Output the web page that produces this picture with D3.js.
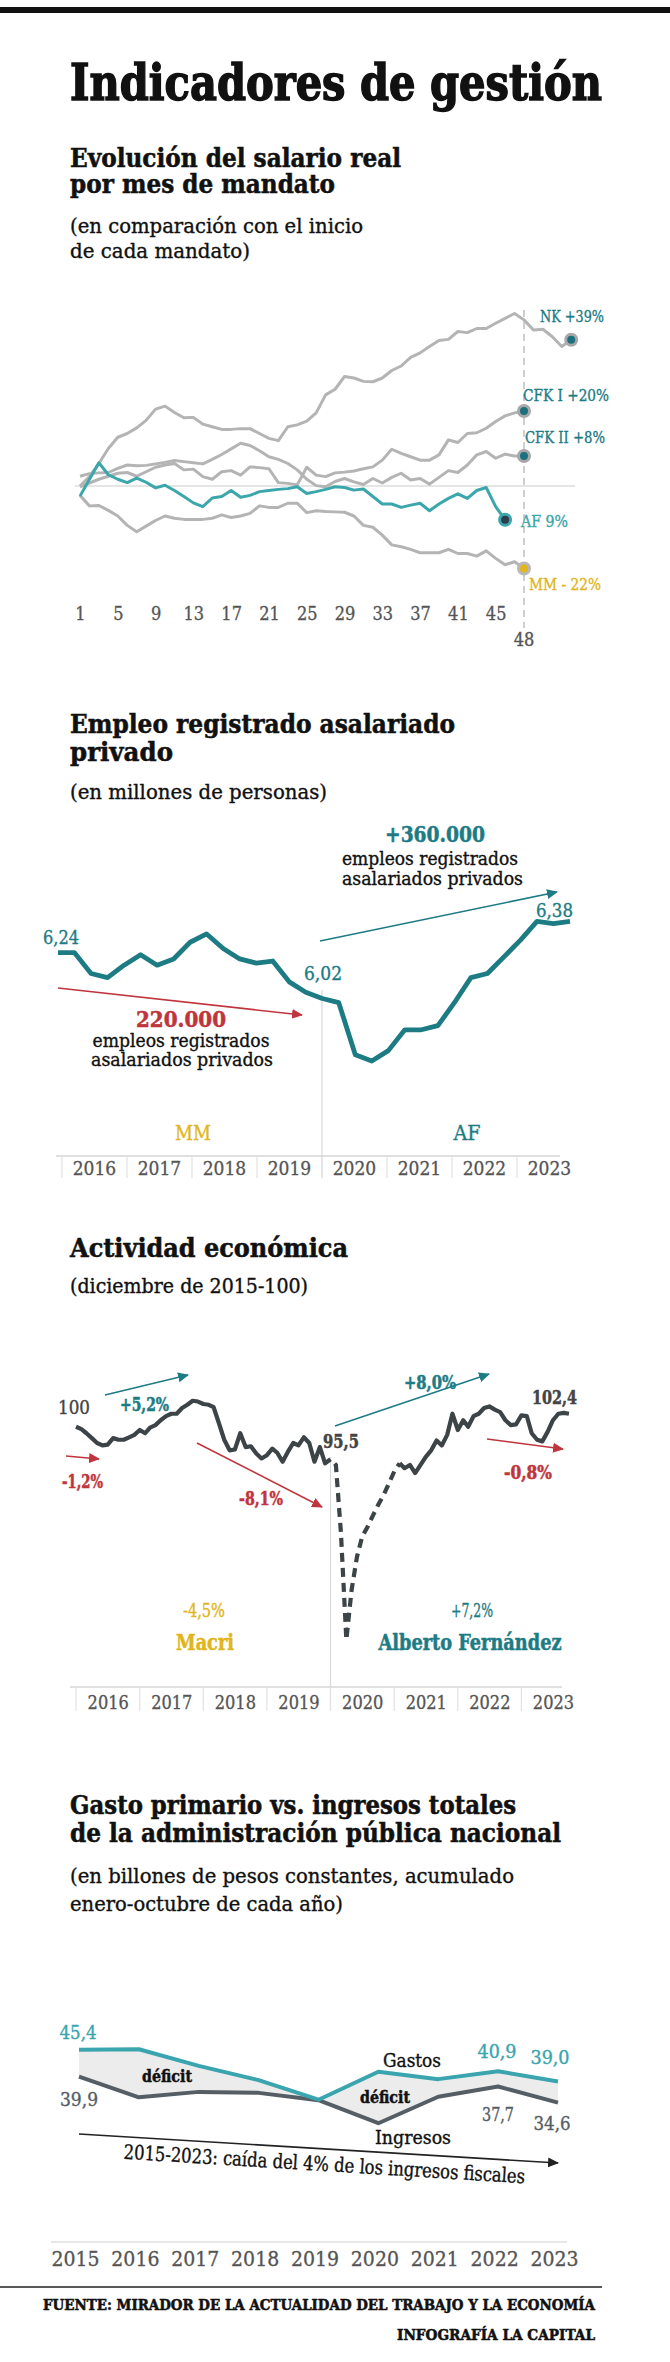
<!DOCTYPE html>
<html>
<head>
<meta charset="utf-8">
<script src="https://cdn.jsdelivr.net/npm/d3@7"></script>
<style>
  body { margin: 0; background: #fff; }
  svg text { font-family: 'DejaVu Serif Condensed', 'DejaVu Serif', serif; font-stretch: condensed; }
</style>
</head>
<body>
<svg id="chart" width="670" height="2362"></svg>
<script>
// ---- salario real por mes de mandato (% vs inicio)
const salarioTicks = [1, 5, 9, 13, 17, 21, 25, 29, 33, 37, 41, 45];
const salarioNK = [0,2.5,6,10,13,14,15.5,17.5,20.5,21.3,19.6,18.2,18.3,16.5,15.8,15.1,15.1,15.3,15.3,14,12.7,12.1,15.8,16.3,17.3,19.5,24.3,25.8,29.2,28.8,27.9,27.8,28.8,30.8,32,34.3,35.5,37.2,38.8,39.1,41.2,40.9,42,42,43.4,44.7,46,44.3,41.6,41.8,39.8,37.2,39];
const salarioCFK1 = [-0.2,0.8,1.8,2.6,3.4,3.6,2.6,3.8,5,5.6,6,4.3,4.5,2.5,1.8,3.8,4.1,2.9,5.1,4.9,4.6,0.9,0.7,0.3,5,2.9,2.5,3.5,3.7,4,4.6,5.1,6.9,9.8,8.7,7.8,6.9,6.9,8.3,12.3,11.6,14,14.2,15.4,17.2,18.7,19.5,20];
const salarioCFK2 = [2.6,3.3,3.5,3.6,4.7,5.6,5.4,5.5,5.9,6.3,6.8,6.5,6.2,5.9,7.1,8.4,9.9,11.4,10.8,9.4,7.8,7.1,6,4.3,1.8,0.1,-0.2,1.2,2,1.1,0.4,2,0.8,2.3,3.4,1.6,2,0.5,2.3,4.1,3.6,5.6,8.3,9.2,7.4,8.5,8,8];
const salarioMM = [-2.5,-5.3,-5.2,-6.5,-8,-10.5,-12.2,-10.7,-9.2,-8,-8.6,-8.9,-8.9,-8.9,-8.6,-7.7,-8.4,-8,-7.3,-5.3,-5.7,-5.7,-4.6,-4.6,-7.1,-6.6,-6.8,-6.9,-7,-8,-10.5,-11,-13.1,-15.7,-16.2,-16.9,-17.8,-17.8,-17.8,-16.9,-18,-18,-18.7,-17.3,-19.3,-21,-20.2,-22];
const salarioAF = [-2.7,1.8,6.2,3.0,1.8,0.9,2.1,1.0,-0.5,0.2,-1.2,-2.8,-4.5,-5.5,-3.2,-2.8,-1.2,-3,-2.5,-1.5,-1.2,-0.9,-0.7,-0.2,-2,-1.5,-0.9,-0.2,-0.4,-1.1,-0.8,-2.8,-4.8,-4.8,-5.7,-5.1,-4.6,-6.6,-4.8,-3.3,-2.1,-3.3,-1.2,-0.4,-5.5,-9];
const salarioLabels = ["NK +39%", "CFK I +20%", "CFK II +8%", "AF 9%", "MM - 22%"];

// ---- empleo registrado asalariado privado (millones, trimestral 2016-2023)
const empleoYears = ["2016", "2017", "2018", "2019", "2020", "2021", "2022", "2023"];
const empleoValores = [6.24,6.24,6.14,6.12,6.18,6.23,6.18,6.21,6.29,6.33,6.26,6.21,6.19,6.20,6.10,6.05,6.02,6.00,5.75,5.72,5.77,5.87,5.87,5.89,6.00,6.12,6.14,6.22,6.30,6.39,6.38,6.39];

// ---- actividad económica (dic 2015 = 100, mensual ene-2016 a oct-2023)
const actividadYears = [2016, 2017, 2018, 2019, 2020, 2021, 2022, 2023];
const actividadValores = [
  100.0,99.7,99.2,98.6,98.0,97.7,97.8,98.6,98.4,98.4,98.7,99.0,
  99.6,99.2,99.9,100.2,100.8,101.3,101.6,101.6,102.3,102.7,103.2,103.1,
  102.8,102.7,102.4,100.4,98.4,97.1,97.2,99.2,97.5,97.6,96.7,96.1,
  96.5,97.3,96.8,95.7,96.9,98.0,97.7,98.7,98.0,95.7,97.5,95.5,
  96.0,95.3,86.9,73.8,79.9,84.0,86.5,87.7,89.1,90.4,91.6,93.0,
  94.5,95.5,94.9,95.3,94.3,95.3,96.3,97.1,98.3,97.7,99.0,101.6,
  99.6,100.8,100.0,101.3,101.6,102.3,102.5,102.1,101.8,100.8,100.2,100.3,
  101.4,101.3,99.2,98.4,98.2,99.4,100.8,101.6,101.7,101.6
];

// ---- gasto primario vs ingresos (billones de pesos constantes)
const fiscalYears = ["2015", "2016", "2017", "2018", "2019", "2020", "2021", "2022", "2023"];
const fiscalGastos = [45.4, 45.5, 42.1, 39.2, 35.2, 40.9, 39.4, 41.0, 38.9];
const fiscalIngresos = [39.9, 35.7, 36.8, 36.6, 35.1, 30.4, 35.8, 37.9, 34.6];

const TEAL = "#1d7b84", TEAL_L = "#3ba6ab", RED = "#c0353d", YELLOW = "#e1b51c",
      GREY_L = "#b4b4b4", DARK = "#3c4447", AXIS_T = "#555";

const svg = d3.select("#chart");

// text helper: weight 0 regular, 1 bold, 2 heavy (title); a thin stroke thickens the glyphs
function txt(str, x, y, o = {}) {
  const c = o.color || "#111";
  let t = svg.append("text").text(str)
    .attr("x", x).attr("y", y)
    .attr("font-size", o.size || 18)
    .attr("font-weight", o.bold ? "bold" : "normal")
    .attr("fill", c)
    .attr("stroke", c)
    .attr("stroke-width", o.heavy ? 1.4 : (o.bold ? 0.5 : 0.35))
    .attr("text-anchor", o.anchor || "start");
  if (o.len) t.attr("textLength", o.len).attr("lengthAdjust", "spacingAndGlyphs");
  return t;
}

// arrow markers
const defs = svg.append("defs");
[["red", RED], ["teal", TEAL], ["black", "#222"]].forEach(([id, c]) => {
  defs.append("marker").attr("id", "arr-" + id)
    .attr("markerUnits", "userSpaceOnUse")
    .attr("markerWidth", 12).attr("markerHeight", 12)
    .attr("refX", 10).attr("refY", 6).attr("orient", "auto")
    .append("path").attr("d", "M0,1 L11,6 L0,11 z").attr("fill", c);
});
function arrow(x1, y1, x2, y2, id, c) {
  svg.append("line").attr("x1", x1).attr("y1", y1).attr("x2", x2).attr("y2", y2)
    .attr("stroke", c).attr("stroke-width", 1.6)
    .attr("marker-end", "url(#arr-" + id + ")");
}
function styleAxis(g, size) {
  g.select(".domain").remove();
  g.selectAll("text").attr("y", 0).attr("dy", 0).attr("fill", AXIS_T)
    .attr("stroke", AXIS_T).attr("stroke-width", 0.3)
    .attr("font-size", size).attr("font-family", null);
}

// ---------------- header
svg.append("rect").attr("x", 0).attr("y", 7).attr("width", 670).attr("height", 6).attr("fill", "#111");
txt("Indicadores de gestión", 70, 100, {size: 50, bold: true, heavy: true, len: 532});

// ---------------- 1. salario real
txt("Evolución del salario real", 70, 167, {size: 26, bold: true, len: 331});
txt("por mes de mandato", 70, 193, {size: 26, bold: true, len: 265});
txt("(en comparación con el inicio", 70, 233, {size: 21, len: 293});
txt("de cada mandato)", 70, 258, {size: 21, len: 180});

const x1 = d3.scaleLinear([1, 48], [80, 524]);
const y1 = d3.scaleLinear([-30, 50], [598.5, 298.5]);
const line1 = d3.line().x((d, i) => x1(i + 1)).y(d => y1(d));

svg.append("line").attr("x1", 75).attr("x2", 575).attr("y1", y1(0)).attr("y2", y1(0))
  .attr("stroke", "#ddd").attr("stroke-width", 1.5);
svg.append("line").attr("x1", x1(48)).attr("x2", x1(48)).attr("y1", 310).attr("y2", 628)
  .attr("stroke", "#cfcfcf").attr("stroke-width", 2).attr("stroke-dasharray", "7,5");

[salarioNK, salarioCFK1, salarioCFK2, salarioMM].forEach(s => {
  svg.append("path").attr("d", line1(s)).attr("fill", "none")
    .attr("stroke", GREY_L).attr("stroke-width", 3).attr("stroke-linejoin", "round");
});
svg.append("path").attr("d", line1(salarioAF)).attr("fill", "none")
  .attr("stroke", TEAL_L).attr("stroke-width", 3).attr("stroke-linejoin", "round");

const ends = [
  {s: salarioNK, fill: "#1c6f7d", ring: "#a8a8a8"},
  {s: salarioCFK1, fill: "#1c6f7d", ring: "#a8a8a8"},
  {s: salarioCFK2, fill: "#1c6f7d", ring: "#a8a8a8"},
  {s: salarioAF, fill: "#2c3e4c", ring: TEAL_L},
  {s: salarioMM, fill: YELLOW, ring: "#b8b8b8"}
];
ends.forEach(e => {
  const n = e.s.length;
  svg.append("circle").attr("cx", x1(n)).attr("cy", y1(e.s[n - 1])).attr("r", 5.5)
    .attr("fill", e.fill).attr("stroke", e.ring).attr("stroke-width", 3);
});

txt(salarioLabels[0], x1(48) + 16, y1(39) - 18, {size: 17, color: TEAL, len: 64});
txt(salarioLabels[1], x1(48) - 1, y1(20) - 10, {size: 17, color: TEAL, len: 86});
txt(salarioLabels[2], x1(48) + 1, y1(8) - 13, {size: 17, color: TEAL, len: 80});
txt(salarioLabels[3], x1(48) - 3, y1(-9) + 7, {size: 17, color: TEAL_L, len: 47});
txt(salarioLabels[4], x1(48) + 5, y1(-22) + 21, {size: 17, color: YELLOW, len: 72});

const ax1 = svg.append("g").attr("transform", "translate(0,620)")
  .call(d3.axisBottom(x1).tickValues(salarioTicks).tickSize(0).tickFormat(d3.format("d")));
styleAxis(ax1, 18);
txt("48", x1(48), 646, {size: 18, color: AXIS_T, anchor: "middle"});

// ---------------- 2. empleo registrado
txt("Empleo registrado asalariado", 70, 733, {size: 26, bold: true, len: 385});
txt("privado", 70, 761, {size: 26, bold: true, len: 103});
txt("(en millones de personas)", 70, 799, {size: 21, len: 257});

const x2 = d3.scaleLinear([0, empleoValores.length - 1], [58, 570]);
const y2 = d3.scaleLinear([5.5, 6.5], [1106.9, 898.5]);
const xb2 = d3.scaleBand(empleoYears, [62, 582]);

svg.append("line").attr("x1", 56).attr("x2", 560).attr("y1", 1156).attr("y2", 1156)
  .attr("stroke", "#d6d6d6").attr("stroke-width", 1.5);
svg.append("line").attr("x1", xb2("2020")).attr("x2", xb2("2020")).attr("y1", 990).attr("y2", 1178)
  .attr("stroke", "#d9d9d9").attr("stroke-width", 1.2);
empleoYears.forEach(yr => {
  svg.append("line").attr("x1", xb2(yr)).attr("x2", xb2(yr)).attr("y1", 1157).attr("y2", 1178)
    .attr("stroke", "#e2e2e2").attr("stroke-width", 1.2);
});
const ax2 = svg.append("g").attr("transform", "translate(0,1175)")
  .call(d3.axisBottom(xb2).tickSize(0));
styleAxis(ax2, 19);

svg.append("path").attr("d", d3.line().x((d, i) => x2(i)).y(d => y2(d))(empleoValores))
  .attr("fill", "none").attr("stroke", TEAL).attr("stroke-width", 4.8).attr("stroke-linejoin", "round");

txt("6,24", 43, 944, {size: 19, color: TEAL, len: 36});
txt("6,02", 304, 980, {size: 19, color: TEAL, len: 38});
txt("6,38", 536, 917, {size: 19, color: TEAL, len: 37});

arrow(58, 988, 302, 1015, "red", RED);
txt("220.000", 181, 1027, {size: 23, bold: true, color: RED, anchor: "middle", len: 90});
txt("empleos registrados", 181, 1047, {size: 19, anchor: "middle", len: 177});
txt("asalariados privados", 182, 1066, {size: 19, anchor: "middle", len: 182});

arrow(320, 941, 557, 892, "teal", TEAL);
txt("+360.000", 435, 842, {size: 23, bold: true, color: TEAL, anchor: "middle", len: 100});
txt("empleos registrados", 342, 865, {size: 19, len: 176});
txt("asalariados privados", 342, 885, {size: 19, len: 181});

txt("MM", 193, 1140, {size: 20, color: YELLOW, anchor: "middle", len: 36});
txt("AF", 467, 1140, {size: 20, color: TEAL, anchor: "middle", len: 27});

// ---------------- 3. actividad económica
txt("Actividad económica", 70, 1257, {size: 26, bold: true, len: 278});
txt("(diciembre de 2015-100)", 70, 1293, {size: 21, len: 238});

const x3 = d3.scaleTime([new Date(2016, 0, 1), new Date(2024, 0, 1)], [76, 585]);
const y3 = d3.scaleLinear([70, 105], [1670.6, 1386.1]);
const mes = i => new Date(2016, i, 1);
const line3 = d3.line().x(d => x3(mes(d.i))).y(d => y3(d.v));
const act = actividadValores.map((v, i) => ({i, v}));

svg.append("line").attr("x1", 70).attr("x2", 562).attr("y1", 1687).attr("y2", 1687)
  .attr("stroke", "#d6d6d6").attr("stroke-width", 1.5);
svg.append("line").attr("x1", x3(new Date(2020, 0, 1))).attr("x2", x3(new Date(2020, 0, 1)))
  .attr("y1", 1457).attr("y2", 1710).attr("stroke", "#d9d9d9").attr("stroke-width", 1.2);
actividadYears.forEach(yr => {
  const xx = x3(new Date(yr, 0, 1));
  svg.append("line").attr("x1", xx).attr("x2", xx).attr("y1", 1688).attr("y2", 1711)
    .attr("stroke", "#e2e2e2").attr("stroke-width", 1.2);
});
const ax3 = svg.append("g").attr("transform", "translate(0,1709)")
  .call(d3.axisBottom(x3).tickValues(actividadYears.map(yr => new Date(yr, 6, 1)))
    .tickFormat(d3.timeFormat("%Y")).tickSize(0));
styleAxis(ax3, 18);

svg.append("path").attr("d", line3(act.slice(0, 49)))
  .attr("fill", "none").attr("stroke", DARK).attr("stroke-width", 4.2).attr("stroke-linejoin", "round");
svg.append("path").attr("d", line3(act.slice(48, 62)))
  .attr("fill", "none").attr("stroke", DARK).attr("stroke-width", 4.2)
  .attr("stroke-dasharray", "9,6").attr("stroke-dashoffset", -6);
svg.append("path").attr("d", line3(act.slice(61)))
  .attr("fill", "none").attr("stroke", DARK).attr("stroke-width", 4.2).attr("stroke-linejoin", "round");

txt("100", 58, 1414, {size: 19, color: "#444", len: 32});
arrow(105, 1395, 188, 1375, "teal", TEAL);
txt("+5,2%", 120, 1411, {size: 18, bold: true, color: TEAL, len: 49});
arrow(66, 1456, 99, 1459, "red", RED);
txt("-1,2%", 62, 1488, {size: 18, bold: true, color: RED, len: 41});
arrow(197, 1443, 322, 1507, "red", RED);
txt("-8,1%", 239, 1505, {size: 18, bold: true, color: RED, len: 44});
txt("95,5", 323, 1448, {size: 19, bold: true, color: "#444", len: 36});
arrow(335, 1426, 489, 1374, "teal", TEAL);
txt("+8,0%", 404, 1389, {size: 18, bold: true, color: TEAL, len: 52});
txt("102,4", 532, 1404, {size: 19, bold: true, color: "#444", len: 45});
arrow(487, 1439, 563, 1449, "red", RED);
txt("-0,8%", 504, 1479, {size: 18, bold: true, color: RED, len: 48});

txt("-4,5%", 204, 1617, {size: 18, color: YELLOW, anchor: "middle", len: 42});
txt("Macri", 205, 1650, {size: 22, bold: true, color: YELLOW, anchor: "middle", len: 58});
txt("+7,2%", 472, 1617, {size: 18, color: TEAL, anchor: "middle", len: 42});
txt("Alberto Fernández", 470, 1650, {size: 22, bold: true, color: TEAL, anchor: "middle", len: 183});

// ---------------- 4. gasto vs ingresos
txt("Gasto primario vs. ingresos totales", 70, 1814, {size: 26, bold: true, len: 446});
txt("de la administración pública nacional", 70, 1842, {size: 26, bold: true, len: 491});
txt("(en billones de pesos constantes, acumulado", 70, 1883, {size: 21, len: 444});
txt("enero-octubre de cada año)", 70, 1911, {size: 21, len: 273});

const x4 = d3.scalePoint(fiscalYears, [79, 558]);
const y4 = d3.scaleLinear([30, 46], [2125.2, 2046.8]);
const fiscal = fiscalYears.map((yr, i) => ({yr, g: fiscalGastos[i], r: fiscalIngresos[i]}));

svg.append("path").attr("d", d3.area().x(d => x4(d.yr)).y0(d => y4(d.r)).y1(d => y4(d.g))(fiscal))
  .attr("fill", "#ececec");
svg.append("path").attr("d", d3.line().x(d => x4(d.yr)).y(d => y4(d.r))(fiscal))
  .attr("fill", "none").attr("stroke", "#555e65").attr("stroke-width", 4).attr("stroke-linejoin", "round");
svg.append("path").attr("d", d3.line().x(d => x4(d.yr)).y(d => y4(d.g))(fiscal))
  .attr("fill", "none").attr("stroke", "#3aa5ae").attr("stroke-width", 4).attr("stroke-linejoin", "round");

txt("45,4", 78, 2039, {size: 19, color: "#3aa5ae", anchor: "middle", len: 37});
txt("39,9", 79, 2106, {size: 19, color: "#555e65", anchor: "middle", len: 38});
txt("déficit", 167, 2082, {size: 17, bold: true, anchor: "middle", len: 50});
txt("déficit", 385, 2103, {size: 17, bold: true, anchor: "middle", len: 50});
txt("Gastos", 412, 2067, {size: 19, anchor: "middle", len: 58});
txt("Ingresos", 413, 2144, {size: 19, anchor: "middle", len: 76});
txt("40,9", 497, 2058, {size: 19, color: "#3aa5ae", anchor: "middle", len: 39});
txt("39,0", 550, 2064, {size: 19, color: "#3aa5ae", anchor: "middle", len: 39});
txt("37,7", 498, 2121, {size: 19, color: "#555e65", anchor: "middle", len: 32});
txt("34,6", 552, 2130, {size: 19, color: "#555e65", anchor: "middle", len: 37});

arrow(79, 2134, 558, 2163, "black", "#222");
txt("2015-2023: caída del 4% de los ingresos fiscales", 324, 2171, {size: 20, anchor: "middle", len: 402})
  .attr("transform", "rotate(3.5,324,2171)");

svg.append("line").attr("x1", 51).attr("x2", 567).attr("y1", 2242).attr("y2", 2242)
  .attr("stroke", "#e0e0e0").attr("stroke-width", 1.5);
const ax4 = svg.append("g").attr("transform", "translate(-4,2266)")
  .call(d3.axisBottom(x4).tickSize(0));
styleAxis(ax4, 21);

// ---------------- footer
svg.append("line").attr("x1", 0).attr("x2", 602).attr("y1", 2287).attr("y2", 2287)
  .attr("stroke", "#222").attr("stroke-width", 1.5);
txt("FUENTE: MIRADOR DE LA ACTUALIDAD DEL TRABAJO Y LA ECONOMÍA", 43, 2310, {size: 15, bold: true, len: 552});
txt("INFOGRAFÍA LA CAPITAL", 595, 2340, {size: 15, bold: true, anchor: "end", len: 198});
</script>
</body>
</html>
